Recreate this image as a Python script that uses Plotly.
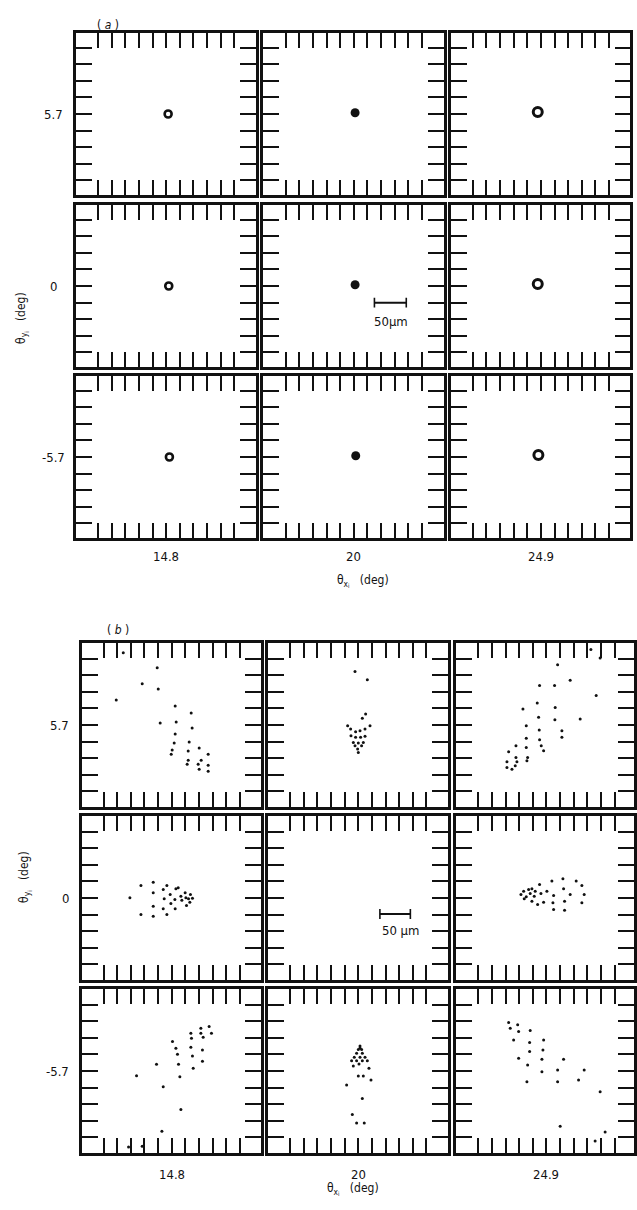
import plotly.graph_objects as go

FIG_W, FIG_H = 637, 1210

# ---------------- data ----------------
ROW_LABELS = ["5.7", "0", "-5.7"]        # theta_yi (deg), rows top -> bottom
COL_LABELS = ["14.8", "20", "24.9"]      # theta_xi (deg), columns left -> right
SCALE_BAR_UM = 50

# (a) spot centroids (µm, relative to panel centre) [row][col]
A_SPOT_X = [[3, 2, -5], [4, 2, -5], [5, 3, -4]]
A_SPOT_Y = [[0, 2, 3], [0, 2, 3], [0, 2, 3]]

# (b) spot diagrams (µm, relative to panel centre)
B_R1C1_X = [-79.5, -23.8, -48.4, -22.1, -91, 5.7, 32, -18.9, 7.4, 33.6, 5.7, 28.7, 4.1, 45.1, 0.8,
            27.1, 59.9, -0.8, 27.1, 48.4, 25.4, 43.5, 59.9, 45.1, 59.9]
B_R1C1_Y = [118, 93.5, 67.2, 59, 41, 31.2, 19.7, 3.3, 4.9, -4.9, -14.8, -27.9, -29.5, -37.7, -41,
            -42.6, -47.6, -47.6, -57.4, -57.4, -64, -64, -65.6, -72.2, -75.4]

B_R1C2_X = [-5.4, 14.8, 12, 6.6, -17.5, 19.2, -12.6, -4.4, 2.8, 11, -12, 11, -4.4, 3.8, -8.2, 0,
            8.2, -5.4, 5.4, -1.1, 0]
B_R1C2_Y = [87.4, 73.8, 18, 11, -1.1, -1.1, -6.6, -11, -9.3, -6.6, -17.5, -18.5, -20.2, -20.2,
            -28.4, -29.5, -28.4, -33.9, -33.9, -39.4, -44.8]

B_R1C3_X = [88.2, 73, 18.4, 39, -11.2, 13.4, 81.7, -38.5, -15.1, 14.4, -12.8, 13.9, 55.4, -33.1,
            -11.8, 25.4, -33.1, 25.4, -11.2, -50, -33.1, -8.5, -4.6, -62, -50, -30.8, -32, -64.8,
            -48.4, -51.2, -64.8, -56.6]
B_R1C3_Y = [109.4, 123.5, 98.4, 73.3, 64.5, 64.5, 48.1, 26.2, 36.1, 28.4, 12.6, 8.7, 9.8, -1.1,
            -8.2, -9.3, -21.8, -20.2, -24.1, -33.9, -36.6, -33.9, -42.1, -43.8, -53, -53, -58.5,
            -60.2, -60.2, -66.7, -69.4, -72.2]

B_R2C1_X = [-68.6, -50.5, -30.3, -50.5, -30.3, -30.3, -30.3, -13.9, -7.9, -12.3, -13.9, -7.9, -2.5,
            -1.3, 6.9, 5.2, 5.7, 10.7, 15.1, 16.7, 22.1, 23.3, 24.3, 27.6, 30.8, 34.1, 29.8]
B_R2C1_Y = [0.3, 20.5, 25.9, -27.1, 8.5, -13.4, -29.8, 13.9, 20.5, -1.3, -17.7, -27.1, 5.7, -9,
            15.1, -2.5, -17.7, 16.7, 3, -3.6, 8.5, 0.3, -12.3, -1.3, 5.7, -0.3, -6.9]

B_R2C3_X = [-41.8, -37.4, -33.1, -29.2, -23.8, -26.6, -20, -23.8, -36.4, -18.4, -11.2, -9, -14.4,
            -4.6, 0.8, 9, 11.8, 10.7, 11.8, 27.1, 28.2, 29.8, 29.8, 39, 48.9, 58.2, 62, 58.2]
B_R2C3_Y = [5.7, 11.2, 2, 13.9, 15.1, 7.4, 3, -5.2, -1.3, 11.2, 22.1, 7.4, -10.7, -6.9, 11.2, 27.6,
            4.1, -7.9, -18.9, 31.5, 15.1, -5.2, -20, 5.7, 27.6, 20.5, 5.7, -7.9]

B_R3C1_X = [1.3, 6.9, 9.5, 11.2, 13.4, -24.9, -57.7, -13.9, 15.1, -16.1, 31.5, 32.5, 31.5, 34.1,
            35.3, 47.9, 47.9, 51.7, 50.5, 50.5, 61.5, 65.3, -70.8, -48.4]
B_R3C1_Y = [48.1, 37.2, 27.4, 11, -9.3, 11, -7.7, -25.7, -62.8, -98.4, 61.8, 53.6, 38.9, 24.6, 4.4,
            70, 61.8, 55.3, 34.4, 15.9, 72.7, 61.8, -124.1, -123]

B_R3C2_X = [2.8, 0, 5.5, 2.8, -2.8, 6.6, -6.6, 2.8, 11, -11, -2.8, 6.6, 14.8, -8.2, 1.1, 17.5, 0,
            8.2, 20.8, -19.2, 6.6, -9.8, -2.8, 9.8]
B_R3C2_Y = [41, 35, 35, 37.5, 29, 29, 22.5, 22.5, 22.5, 16.9, 16.9, 16.9, 16.9, 8.2, 11.5, 4.4,
            -8.2, -8.2, -14.8, -23, -44.8, -71, -84.8, -84.8]

B_R3C3_X = [-62, -59.4, -47.2, -45.6, -26.6, -53.8, -27.6, -4.6, -5.7, -27.6, -45.6, -7.4, -30.8,
            -7.4, 28.2, 18.4, -32, 18.4, 52.8, 62, 88.2, 22.6, 80, 96.4]
B_R3C3_Y = [79.2, 70, 75.4, 64.5, 66.1, 50.8, 46.4, 50.8, 34.4, 31.7, 20.8, 19.2, 9.8, -1.1, 19.2,
            1.6, -17.5, -17.5, -14.8, 1.6, -33.9, -90.2, -114.3, -99.5]

B_SPOTS = [
    [(B_R1C1_X, B_R1C1_Y), (B_R1C2_X, B_R1C2_Y), (B_R1C3_X, B_R1C3_Y)],
    [(B_R2C1_X, B_R2C1_Y), ([], []), (B_R2C3_X, B_R2C3_Y)],
    [(B_R3C1_X, B_R3C1_Y), (B_R3C2_X, B_R3C2_Y), (B_R3C3_X, B_R3C3_Y)],
]

# ---------------- layout geometry (pixels) ----------------
FONT = "DejaVu Sans Condensed, Liberation Sans Narrow, sans-serif"
INK = "#111111"
LINE_W = 2.6
INSET = 1.6   # keeps a thin white gap between neighbouring frames

PARTS = [
    dict(name="a", cols=[(75, 259), (263, 448), (452, 635)],
         rows=[(31, 197), (203, 369), (374, 540)], px_per_50um=32.0,
         bar=(20.7, -16.7), bar_text=(37, -35.7), bar_label="50µm",
         ylab_x=54, ylab_anchor="center", xlab_dy=16,
         tag=(95, 16), xtitle=(365, 581), ytitle=(12, 290)),
    dict(name="b", cols=[(81, 264), (268, 452), (457, 641)],
         rows=[(641, 809), (814, 982), (987, 1155)], px_per_50um=30.6,
         bar=(21.7, -16.0), bar_text=(42.5, -32.0), bar_label="50 µm",
         ylab_x=71, ylab_anchor="right", xlab_dy=19,
         tag=(105, 630), xtitle=(355, 1199), ytitle=(15, 905)),
]
TICK_STEP_X_PX = 13.7
TICK_STEP_Y_PX = 16.6

fig = go.Figure()
layout = dict(
    width=FIG_W, height=FIG_H, margin=dict(l=0, r=0, t=0, b=0),
    paper_bgcolor="white", plot_bgcolor="white", showlegend=False,
    font=dict(family=FONT, color=INK, size=13),
)
annotations = []
LABEL_FONT = dict(family=FONT, size=13, color=INK)

A_MARKERS = [
    dict(symbol="circle-open", size=7, color=INK, line=dict(width=2.6, color=INK)),
    dict(symbol="circle", size=9, color=INK, line=dict(width=0)),
    dict(symbol="circle-open", size=9, color=INK, line=dict(width=3, color=INK)),
]

n = 0
for part in PARTS:
    k = SCALE_BAR_UM / part["px_per_50um"]  # µm per pixel
    for r in range(3):
        for c in range(3):
            n += 1
            x0, x1 = part["cols"][c]
            y0, y1 = part["rows"][r]
            cx, cy = (x0 + x1) / 2, (y0 + y1) / 2
            dx0 = x0 + INSET
            dx1 = min(x1 - INSET, FIG_W)
            dy0, dy1 = y0 + INSET, y1 - INSET
            xr = [(dx0 - cx) * k, (dx1 - cx) * k]
            yr = [-(dy1 - cy) * k, (cy - dy0) * k]
            xt = [i * TICK_STEP_X_PX * k for i in range(-5, 6)]
            yt = [i * TICK_STEP_Y_PX * k for i in range(-4, 5)]
            xs = "" if n == 1 else str(n)
            common = dict(showgrid=False, zeroline=False, showline=True, linecolor=INK,
                          linewidth=LINE_W, mirror="ticks", ticks="inside", ticklen=16,
                          tickwidth=2, tickcolor=INK, tickmode="array", showticklabels=False)
            layout["xaxis" + xs] = dict(common, domain=[dx0 / FIG_W, dx1 / FIG_W], range=xr,
                                        anchor="y" + xs, tickvals=xt)
            layout["yaxis" + xs] = dict(common, domain=[1 - dy1 / FIG_H, 1 - dy0 / FIG_H],
                                        range=yr, anchor="x" + xs, tickvals=yt)
            # category labels
            if r == 2:
                annotations.append(dict(x=0, y=1 - (y1 + part["xlab_dy"]) / FIG_H,
                                        xref="x" + xs, yref="paper", text=COL_LABELS[c],
                                        showarrow=False, font=LABEL_FONT, yanchor="middle"))
            if c == 0:
                annotations.append(dict(x=part["ylab_x"] / FIG_W, y=0, xref="paper",
                                        yref="y" + xs, text=ROW_LABELS[r], showarrow=False,
                                        font=LABEL_FONT, xanchor=part["ylab_anchor"]))
            if part["name"] == "a":
                fig.add_trace(go.Scatter(x=[A_SPOT_X[r][c]], y=[A_SPOT_Y[r][c]], mode="markers",
                                         marker=A_MARKERS[c], xaxis="x" + xs, yaxis="y" + xs,
                                         hoverinfo="skip"))
            else:
                sx, sy = B_SPOTS[r][c]
                if sx:
                    fig.add_trace(go.Scatter(x=sx, y=sy, mode="markers",
                                             marker=dict(size=3, color=INK, line=dict(width=0)),
                                             xaxis="x" + xs, yaxis="y" + xs, hoverinfo="skip"))
            if r == 1 and c == 1:
                bx, by = part["bar"][0] * k, part["bar"][1] * k
                fig.add_trace(go.Scatter(x=[bx, bx + SCALE_BAR_UM], y=[by, by],
                                         mode="lines+markers",
                                         line=dict(color=INK, width=2),
                                         marker=dict(symbol="line-ns-open", size=7, color=INK,
                                                     line=dict(width=1.6, color=INK)),
                                         xaxis="x" + xs, yaxis="y" + xs, hoverinfo="skip"))
                annotations.append(dict(x=part["bar_text"][0] * k, y=part["bar_text"][1] * k,
                                        xref="x" + xs, yref="y" + xs, text=part["bar_label"],
                                        showarrow=False, font=LABEL_FONT))
    # part tag, axis titles
    annotations.append(dict(x=part["tag"][0] / FIG_W, y=1 - part["tag"][1] / FIG_H, xref="paper",
                            yref="paper", text="( <i>%s</i> )" % part["name"], showarrow=False,
                            font=dict(size=12, family=FONT, color=INK)))
    annotations.append(dict(x=part["xtitle"][0] / FIG_W, y=1 - part["xtitle"][1] / FIG_H,
                            xref="paper", yref="paper",
                            text="θ<sub>x<sub>i</sub></sub>   (deg)", showarrow=False,
                            font=dict(size=12, family=FONT, color=INK)))
    annotations.append(dict(x=part["ytitle"][0] / FIG_W, y=1 - part["ytitle"][1] / FIG_H,
                            xref="paper", yref="paper", textangle=-90,
                            text="θ<sub>y<sub>i</sub></sub>   (deg)", showarrow=False,
                            font=dict(size=12, family=FONT, color=INK)))

layout["annotations"] = annotations
fig.update_layout(**layout)
fig.write_html("out.html")
